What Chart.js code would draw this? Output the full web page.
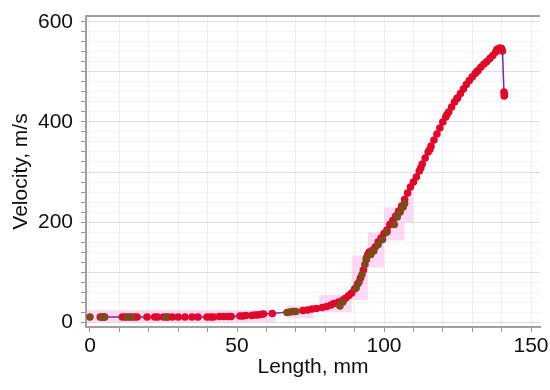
<!DOCTYPE html>
<html><head><meta charset="utf-8">
<script src="https://cdn.jsdelivr.net/npm/chart.js@4"></script>
<style>html,body{margin:0;padding:0;background:#fff}</style>
</head><body>
<canvas id="c" width="550" height="390"></canvas>
<script>
// Red measured points (connected by purple line)
const redX = [3.5,4.5,5,11,12,13.5,15,16,19.4,22,23,25,26.5,28,30,32.3,34.7,36.7,39.8,41,42,44,45.5,47,48,51,52,53,55,56,57,58,59,62,72.4,74,75.5,77,79,80.5,82,83,84.5,86,87,88,89,90,91,92,93,94,94.5,95,96,97,98,99,100,101,102,103,104,105,106,107,108,109,110,111,112,112.5,113,114,115,115.6,116,117,118,119,120,121,121.4,122,123,124,124.8,125,126,127,128,129,130,131,131.6,132,133,134,135,136,137,138,138.4,138.7,139.3,140,140.3,140.8,141,140.9];
const redY = [10,10,10,10,10,10,10,10,10,10,10,10,10,10,10,10,10,10,10,10,10,11,11,11,11,12,12,13,13,14,14,15,16,17,23,24,26,27,29,31,34,37,40,44,48,53,58,66,76,88,104,125,135,140,143,150,160,168,177,184,195,203,212,222,232,245,258,270,280,290,302,308,316,328,340,345,352,364,376,388,400,410,415,420,430,440,447,448,457,466,475,483,490,497,501,503,510,516,521,527,533,540,545,545,548,547,542,460,455,452];
// Dark brown measured points
const brownX = [0,4,4.8,12.5,14,26,67,68,69,70,85,86,90.5,91.5,92.5,93.5,94,95.5,96.5,98,99.5,101,103.5,104.5,105.5,106.5,107];
const brownY = [10,10,10,10,10,10,19,20,21,21,32,40,68,80,95,115,128,135,142,155,165,180,195,210,220,230,237];
// Pink uncertainty band (stepped)
const bandX = [-1,63,67,76,78,89,94.5,100,107,110];
const bandLow = [0,12,8,20,20,44,109,163,200,200];
const bandHigh = [24,12,32,32,54,133,179,229,262,262];
// Axis ticks
const xTickLabels = [0,50,100,150];
const yTickLabels = [0,200,400,600];

const pts = (xs, ys) => xs.map((x,i)=>({x, y: ys[i]}));

const topBorder = {
  id:'topBorder',
  afterDraw(chart){
    const {ctx, chartArea:a} = chart;
    ctx.save();
    ctx.strokeStyle = '#a0a0a0'; ctx.lineWidth = 2;
    ctx.beginPath(); ctx.moveTo(a.left, a.top); ctx.lineTo(a.right, a.top); ctx.stroke();
    ctx.restore();
  }
};

const F = {family:'Liberation Sans', size:21};

new Chart(document.getElementById('c'), {
  type: 'scatter',
  data: {
    datasets: [
      {data: pts(bandX, bandLow), showLine:true, stepped:'before', borderWidth:0, pointRadius:0, borderColor:'rgba(0,0,0,0)', fill:false, order:5},
      {data: pts(bandX, bandHigh), showLine:true, stepped:'before', borderWidth:0, pointRadius:0, borderColor:'rgba(0,0,0,0)', fill:'-1', backgroundColor:'rgba(255,170,235,0.45)', order:4},
      {data: pts(redX, redY), showLine:true, borderColor:'#6a2fa8', borderWidth:1.5, pointRadius:3.8, pointBackgroundColor:'#e0082a', pointBorderWidth:0, order:2},
      {data: pts(brownX, brownY), showLine:false, pointRadius:3.8, pointBackgroundColor:'#7e4a18', pointBorderWidth:0, order:1}
    ]
  },
  options: {
    responsive:false, animation:false,
    layout:{padding:{top:16, right:10, left:0, bottom:0}},
    plugins:{legend:{display:false}, tooltip:{enabled:false}},
    scales:{
      x:{
        type:'linear', min:-1.36, max:153.06,
        afterFit(s){ s.height = 63; s.paddingLeft = 0; s.paddingRight = 0; },
        afterBuildTicks(s){ const t=[]; for(let v=0; v<=150; v+=10) t.push({value:v}); s.ticks=t; },
        ticks:{ autoSkip:false, maxRotation:0, padding:2, color:'#111', font:F,
          callback:(v)=> xTickLabels.includes(v) ? String(v) : '' },
        grid:{ color:'rgba(0,0,0,0.06)', tickLength:5, tickColor:'#999' },
        border:{ color:'#a0a0a0', width:2 },
        title:{ display:true, text:'Length, mm', color:'#111', font:F, padding:{top:0,bottom:10} }
      },
      y:{
        type:'linear', min:-9.9, max:611.9,
        afterFit(s){ s.width = 86; s.paddingTop = 0; s.paddingBottom = 0; },
        afterBuildTicks(s){ const t=[]; for(let v=0; v<=600; v+=20) t.push({value:v}); s.ticks=t; },
        ticks:{ autoSkip:false, padding:8, color:'#111', font:F,
          callback:(v)=> yTickLabels.includes(v) ? String(v) : '' },
        grid:{ color:(c)=> (c.tick && c.tick.value % 100 === 0) ? 'rgba(0,0,0,0.12)' : 'rgba(0,0,0,0.04)', tickLength:5, tickColor:'#999' },
        border:{ color:'#a0a0a0', width:2 },
        title:{ display:true, text:'Velocity, m/s', color:'#111', font:F, padding:{top:9,bottom:0} }
      }
    }
  },
  plugins:[topBorder]
});
</script>
</body></html>
